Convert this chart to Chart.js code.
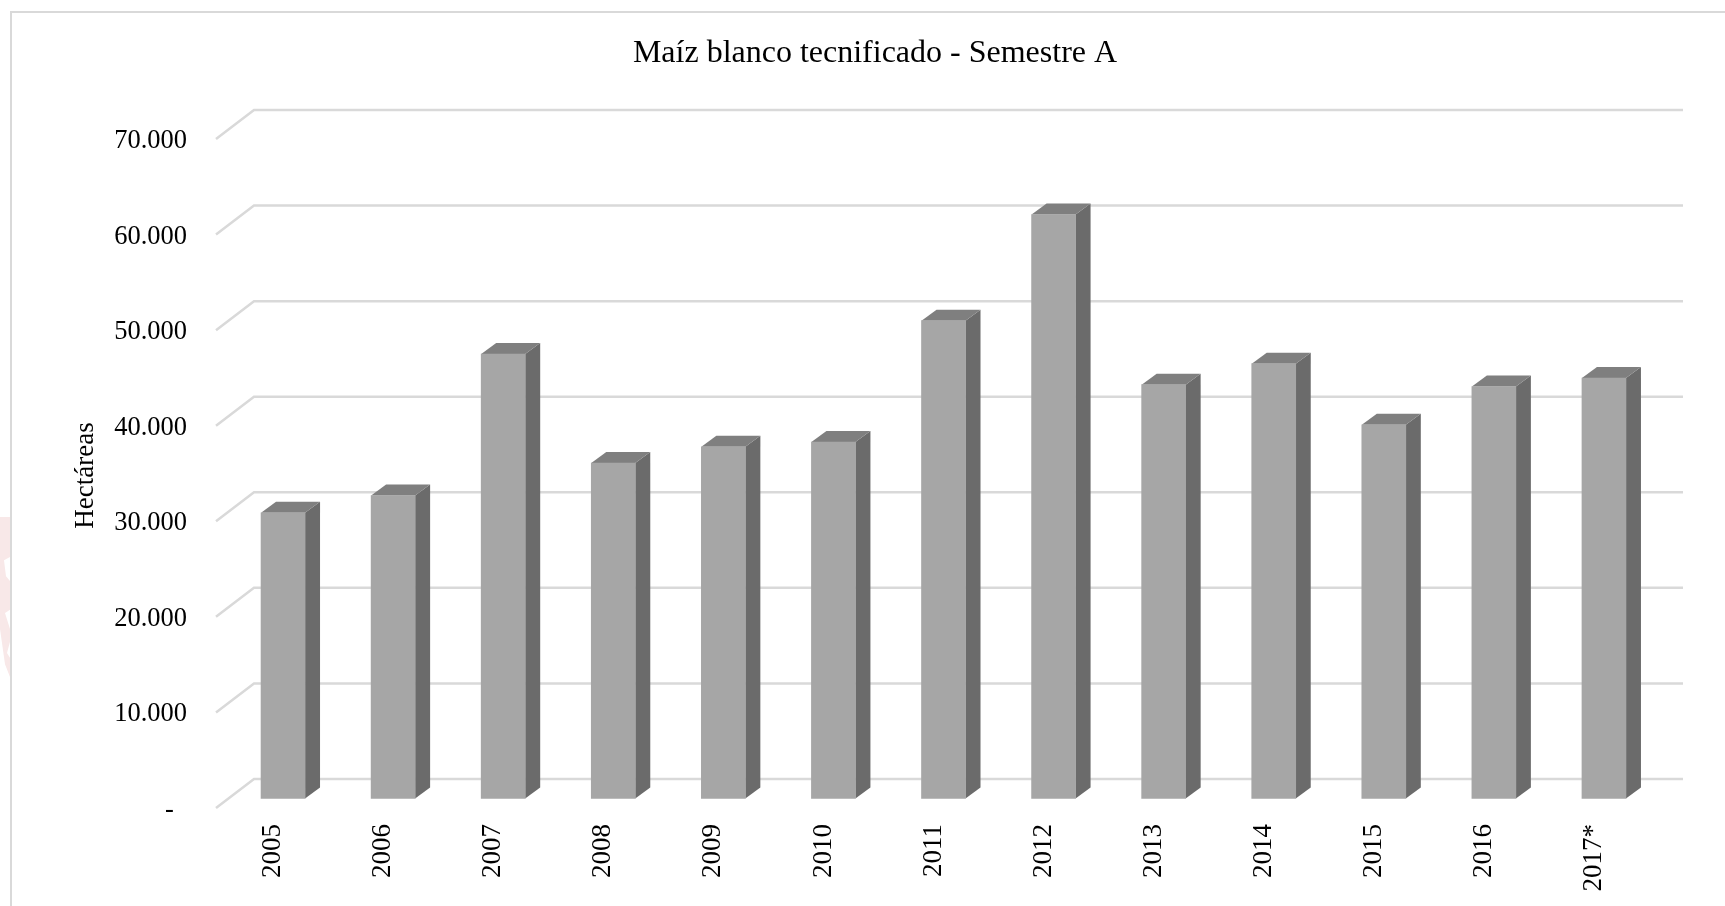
<!DOCTYPE html>
<html>
<head>
<meta charset="utf-8">
<title>Maíz blanco tecnificado</title>
<script src="https://cdn.jsdelivr.net/npm/chart.js@4"></script>
<style>
  html, body { margin: 0; padding: 0; background: #fff; overflow: hidden; }
  #wrap { position: relative; width: 1725px; height: 906px; overflow: hidden; }
  #frame { position: absolute; left: 10px; top: 11px; right: -4px; bottom: -4px; border: 2px solid #d9d9d9; }
  /* bit of the page watermark showing left of the frame */
  #mark {
    position: absolute; left: 0; top: 517px; width: 10px; height: 160px; background: #f8e8e8;
    clip-path: polygon(0 0, 100% 0, 100% 25%, 40% 27%, 60% 37%, 100% 40%, 100% 58%, 50% 60%, 100% 70%, 100% 78%, 70% 85%, 100% 88%, 100% 100%, 50% 92%, 0 70%);
  }
  canvas { position: relative; display: block; }
</style>
</head>
<body>
<div id="wrap">
  <div id="mark"></div>
  <div id="frame"></div>
  <canvas id="myChart" width="1725" height="906"></canvas>
</div>
<script>
var categories = ['2005', '2006', '2007', '2008', '2009', '2010', '2011', '2012', '2013', '2014', '2015', '2016', '2017*'];
var hectareas = [29900, 31700, 46500, 35100, 36800, 37300, 50000, 61100, 43300, 45500, 39100, 43100, 44000];
var tickValues = [0, 10000, 20000, 30000, 40000, 50000, 60000, 70000];

var fontFamily = '"Liberation Serif", "Times New Roman", serif';

// Chart.js has no 3D bars, so the side and top faces and the wall lines go in here
var fake3d = {
  id: 'fake3d',
  beforeDatasetsDraw: function (chart) {
    var c = chart.ctx;
    var area = chart.chartArea;
    var y = chart.scales.y;

    c.save();
    c.strokeStyle = '#d9d9d9';
    c.lineWidth = 2.5;
    tickValues.forEach(function (v) {
      // tick labels hang 2px under the front edge of the floor
      var py = y.getPixelForValue(v) - 2;
      c.beginPath();
      c.moveTo(area.left - 12, py);
      c.lineTo(area.left + 26, py - 29);
      c.lineTo(area.left + 1455, py - 29);
      c.stroke();
    });

    var dx = 15, dy = 11;
    chart.getDatasetMeta(0).data.forEach(function (bar) {
      var right = bar.x + bar.width / 2;
      var left = bar.x - bar.width / 2;

      c.fillStyle = '#6b6b6b';
      c.beginPath();
      c.moveTo(right, bar.y);
      c.lineTo(right + dx, bar.y - dy);
      c.lineTo(right + dx, bar.base - dy);
      c.lineTo(right, bar.base);
      c.closePath();
      c.fill();

      c.fillStyle = '#7f7f7f';
      c.beginPath();
      c.moveTo(left, bar.y);
      c.lineTo(left + dx, bar.y - dy);
      c.lineTo(right + dx, bar.y - dy);
      c.lineTo(right, bar.y);
      c.closePath();
      c.fill();
    });
    c.restore();
  }
};

var ctx = document.getElementById('myChart').getContext('2d');
var chart = new Chart(ctx, {
  type: 'bar',
  data: {
    labels: categories,
    datasets: [{
      label: 'Hectáreas',
      data: hectareas,
      yAxisID: 'bars',
      backgroundColor: '#a6a6a6',
      barThickness: 44
    }]
  },
  plugins: [fake3d],
  options: {
    responsive: false,
    animation: false,
    layout: {
      autoPadding: false,
      padding: { left: 25, right: 0, top: 0, bottom: 0 }
    },
    plugins: {
      legend: { display: false },
      tooltip: { enabled: false },
      title: {
        display: true,
        text: 'Maíz blanco tecnificado - Semestre A',
        color: '#000',
        font: { family: fontFamily, size: 32, weight: 'normal' },
        padding: { top: 34, bottom: 68.6 }
      }
    },
    scales: {
      x: {
        offset: true,
        grid: { display: false },
        border: { display: false },
        afterFit: function (scale) { scale.height = 96; },
        ticks: {
          color: '#000',
          font: { family: fontFamily, size: 27 },
          minRotation: 90,
          maxRotation: 90,
          padding: 6,
          labelOffset: -10
        }
      },
      // visible scale sits on the front edge of the floor
      y: {
        min: 0,
        max: 70000,
        grid: { display: false },
        border: { display: false },
        afterFit: function (scale) { scale.width = 203; },
        afterBuildTicks: function (scale) {
          scale.ticks = tickValues.map(function (v) { return { value: v }; });
        },
        title: {
          display: true,
          text: 'Hectáreas',
          color: '#000',
          font: { family: fontFamily, size: 27 },
          padding: { top: 45, bottom: 0 }
        },
        ticks: {
          color: '#000',
          font: { family: fontFamily, size: 26.5 },
          padding: 33,
          callback: function (v) {
            return v === 0 ? '-  ' : v.toLocaleString('es-CO').replace(',', '.');
          }
        }
      },
      // bars stand a little behind that edge, same scale moved up 11.5px
      // kept on the right with empty ticks so it holds the margin there
      bars: {
        position: 'right',
        min: -1203,
        max: 68797,
        grid: { display: false },
        border: { display: false },
        ticks: { display: false },
        afterFit: function (scale) { scale.width = 66; }
      }
    }
  }
});
</script>
</body>
</html>
